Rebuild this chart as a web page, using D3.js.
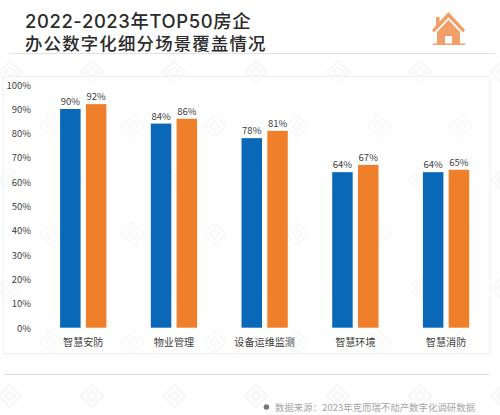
<!DOCTYPE html>
<html><head><meta charset="utf-8">
<script src="https://cdn.jsdelivr.net/npm/d3@7"></script>
<style>html,body{margin:0;padding:0;background:#fff}svg{display:block}
text{font-family:"Noto Sans CJK SC","Noto Sans",sans-serif}</style></head>
<body><svg id="c" width="500" height="415"></svg>
<script>
const categories=["智慧安防","物业管理","设备运维监测","智慧环境","智慧消防"];
const series2022=[90,84,78,64,64];
const series2023=[92,86,81,67,65];
const yTicks=[0,10,20,30,40,50,60,70,80,90,100];
const titleLines=["2022-2023年TOP50房企","办公数字化细分场景覆盖情况"];
const sourceText="数据来源：2023年克而瑞不动产数字化调研数据";
const watermarkRows=[0,1,2,3,4,5,6];
const watermarkCols=[0,1,2,3,4,5,6];

const svg=d3.select("#c");
// faint diamond watermark
const wm=svg.append("g").attr("fill","none").attr("stroke","#000").attr("stroke-opacity",0.035).attr("stroke-width",2);
watermarkRows.forEach(r=>watermarkCols.forEach(c=>{
  const x=10+c*82+(r%2)*41, y=72+r*54;
  const gg=wm.append("g").attr("transform",`translate(${x},${y})`);
  gg.append("path").attr("d","M0,-11 L11,0 L0,11 L-11,0 Z");
  gg.append("path").attr("d","M0,-5 L5,0 L0,5 L-5,0 Z");
}));
// header
svg.append("text").attr("x",25).attr("y",28).attr("font-size",18.4).attr("font-weight",500).attr("fill","#2b2b2b")
  .style("font-family","Inter,'Noto Sans CJK SC',sans-serif").attr("letter-spacing",0.62).text(titleLines[0]);
svg.append("text").attr("x",25).attr("y",50).attr("font-size",17.4).attr("font-weight",500).attr("fill","#2b2b2b")
  .attr("letter-spacing",1.2).text(titleLines[1]);
svg.append("line").attr("x1",10).attr("x2",495).attr("y1",53.5).attr("y2",53.5).attr("stroke","#e2e2e2").attr("stroke-width",1);
// icon
const ic=svg.append("g").attr("fill","#f0a068");
ic.append("path").attr("d","M448.5 12 L465 30 L463 32.5 L448.5 17.5 L434 32.5 L432 30 L436 25.5 L436 17 L439.5 17 L439.5 21.5 Z");
ic.append("path").attr("d","M448.5 20 L460 32 L460 44 L452 44 L452 36 L445 36 L445 44 L437 44 L437 32 Z");
ic.append("rect").attr("x",433).attr("y",43.5).attr("width",32).attr("height",1.5);
// card
svg.append("rect").attr("x",3).attr("y",76.5).attr("width",487).attr("height",277).attr("fill","#fff").attr("fill-opacity",0.3).attr("stroke","#efefef").attr("stroke-width",1);
svg.append("line").attr("x1",4).attr("x2",490).attr("y1",374.5).attr("y2",374.5).attr("stroke","#dcdcdc").attr("stroke-width",1);
// scales
const x=d3.scaleBand().domain(categories).range([37.9,491.4]).paddingInner(0).paddingOuter(0);
const y=d3.scaleLinear().domain([0,100]).range([327.7,84.7]);
const bw=20.5, off=25.8;
const g=svg.append("g");
const yAxis=d3.axisLeft(y).tickValues(yTicks).tickSize(0).tickPadding(0).tickFormat(d=>d+"%");
const ya=g.append("g").attr("transform","translate(31,0)").call(yAxis);
ya.select(".domain").remove();
ya.selectAll("text").attr("font-size",9.5).attr("fill","#404040").attr("dy","0.35em");
const xAxis=d3.axisBottom(x).tickSize(0).tickPadding(0);
const xa=g.append("g").attr("transform","translate(0,337)").call(xAxis);
xa.select(".domain").remove();
xa.selectAll("text").attr("font-size",10.1).attr("fill","#404040").attr("dy","0.85em");
const draw=(vals,color,dx)=>{
  g.selectAll(null).data(vals).join("rect")
    .attr("x",(d,i)=>x(categories[i])+x.bandwidth()/2+dx-bw/2)
    .attr("y",d=>y(d)).attr("width",bw).attr("height",d=>y(0)-y(d)).attr("fill",color);
  g.selectAll(null).data(vals).join("text")
    .attr("x",(d,i)=>x(categories[i])+x.bandwidth()/2+dx)
    .attr("y",d=>y(d)-4).attr("text-anchor","middle").attr("font-size",9.5).attr("fill","#404040").text(d=>d+"%");
};
draw(series2022,"#0a68b8",-off/2);
draw(series2023,"#f07f2c",off/2);
// source
svg.append("circle").attr("cx",266.4).attr("cy",407).attr("r",2.8).attr("fill","#777");
svg.append("text").attr("x",275).attr("y",411).attr("font-size",9.4).attr("fill","#a5a5a5").attr("letter-spacing",0.05).text(sourceText);
</script></body></html>
